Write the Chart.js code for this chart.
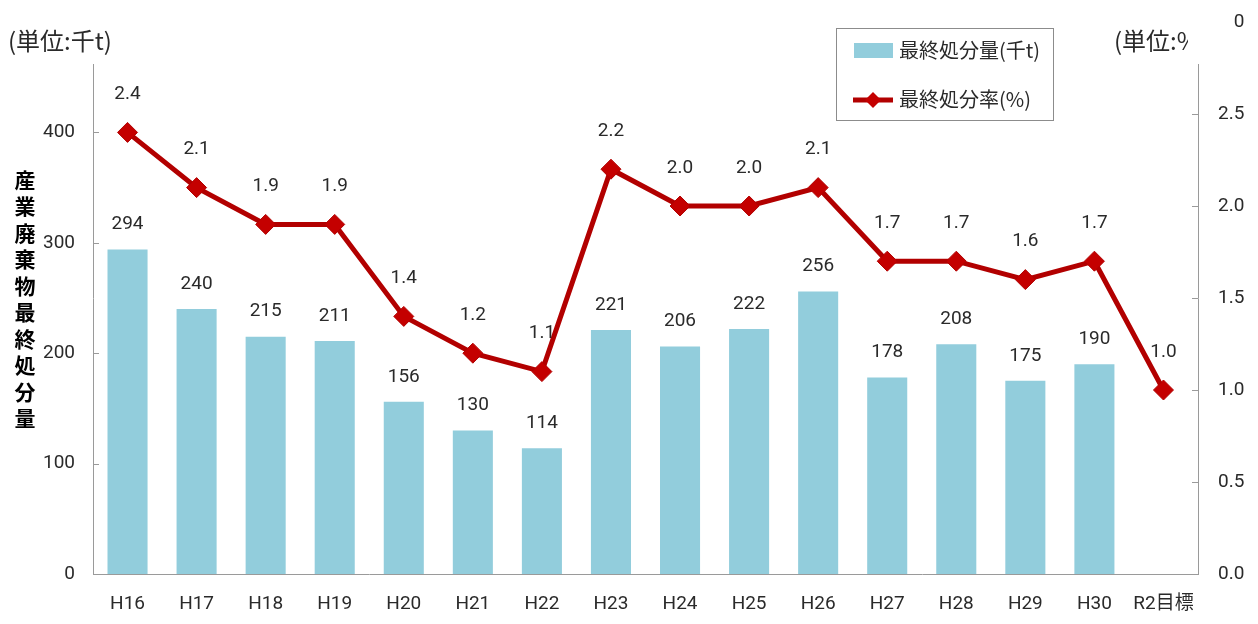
<!DOCTYPE html>
<html>
<head>
<meta charset="utf-8">
<script src="https://cdn.jsdelivr.net/npm/chart.js@4.4.1/dist/chart.umd.min.js"></script>
<style>
  html, body { margin: 0; padding: 0; background: #fff; }
  #wrap { width: 1258px; height: 624px; }
</style>
</head>
<body>
<div id="wrap"><canvas id="c" width="1258" height="624"></canvas></div>
<script>
const categories = ['H16','H17','H18','H19','H20','H21','H22','H23','H24','H25','H26','H27','H28','H29','H30','R2目標'];
const disposalAmount = [294,240,215,211,156,130,114,221,206,222,256,178,208,175,190,null];
const disposalRate = [2.4,2.1,1.9,1.9,1.4,1.2,1.1,2.2,2.0,2.0,2.1,1.7,1.7,1.6,1.7,1.0];
const leftTicks = [0,100,200,300,400,500];
const rightTicks = [0,0.5,1.0,1.5,2.0,2.5,3.0];

const FONT = "Roboto, 'Noto Sans CJK JP', sans-serif";
const JP = "'Noto Sans CJK JP', sans-serif";
const TEXT = '#2a2a2a';
const BAR = '#92CDDC';
const LINE = '#B20000';
const POINT = '#C40000';
const AXIS = '#9a9a9a';
const TICK_SIZE = 19;
const RIGHT_PAD = 20;

// keep the value range spanning the full plot height
function noLabelPadding(s) { s.paddingTop = 0; s.paddingBottom = 0; }

// Value labels, axis tick marks, unit captions, vertical title and legend box
const decor = {
  id: 'decor',
  afterDatasetsDraw(chart) {
    const ctx = chart.ctx;
    ctx.save();
    ctx.fillStyle = TEXT;
    ctx.font = '19px ' + FONT;
    ctx.textAlign = 'center';
    ctx.textBaseline = 'middle';
    chart.data.datasets.forEach((ds, di) => {
      const meta = chart.getDatasetMeta(di);
      meta.data.forEach((el, i) => {
        const v = ds.data[i];
        if (v == null) return;
        if (ds.type === 'bar') ctx.fillText(String(v), el.x, el.y - 25);
        else ctx.fillText(v.toFixed(1), el.x, el.y - 38);
      });
    });
    ctx.restore();
  },
  afterDraw(chart) {
    const ctx = chart.ctx;
    const yl = chart.scales.y, yr = chart.scales.y1;
    ctx.save();
    // inward tick marks
    ctx.strokeStyle = AXIS;
    ctx.lineWidth = 1;
    leftTicks.forEach(v => {
      const p = Math.round(yl.getPixelForValue(v)) + 0.5;
      ctx.beginPath(); ctx.moveTo(yl.right, p); ctx.lineTo(yl.right + 6, p); ctx.stroke();
    });
    rightTicks.forEach(v => {
      const p = Math.round(yr.getPixelForValue(v)) + 0.5;
      ctx.beginPath(); ctx.moveTo(yr.left, p); ctx.lineTo(yr.left - 6, p); ctx.stroke();
    });
    // unit caption boxes (white, sit over the axis tops)
    ctx.font = TICK_SIZE + 'px ' + FONT;
    const coverRight = yr.left + RIGHT_PAD + ctx.measureText('3.').width;
    ctx.fillStyle = '#fff';
    ctx.fillRect(0, 6, 114, 58);
    ctx.fillRect(1104, 6, coverRight - 1104, 58);
    ctx.fillStyle = TEXT;
    ctx.font = '24px ' + JP;
    ctx.textAlign = 'left';
    ctx.textBaseline = 'middle';
    ctx.fillText('(単位:千t)', 8, 41);
    ctx.save();
    ctx.beginPath(); ctx.rect(1104, 6, 84, 58); ctx.clip();
    ctx.fillText('(単位:%)', 1114, 41);
    ctx.restore();
    // vertical axis title
    ctx.fillStyle = '#000';
    ctx.font = 'bold 21px ' + JP;
    ctx.textAlign = 'center';
    const title = '産業廃棄物最終処分量';
    for (let i = 0; i < title.length; i++) {
      ctx.fillText(title[i], 25, 180 + i * 26.5);
    }
    // legend
    ctx.fillStyle = '#fff';
    ctx.fillRect(836, 28, 217, 92);
    ctx.strokeStyle = '#8c8c8c';
    ctx.lineWidth = 1;
    ctx.strokeRect(836.5, 28.5, 217, 92);
    ctx.fillStyle = BAR;
    ctx.fillRect(854, 43, 39, 15);
    ctx.strokeStyle = LINE;
    ctx.lineWidth = 5;
    ctx.beginPath(); ctx.moveTo(853, 100); ctx.lineTo(893, 100); ctx.stroke();
    ctx.fillStyle = POINT;
    ctx.beginPath();
    ctx.moveTo(873, 92); ctx.lineTo(881, 100); ctx.lineTo(873, 108); ctx.lineTo(865, 100);
    ctx.closePath(); ctx.fill();
    ctx.fillStyle = TEXT;
    ctx.font = '20px ' + JP;
    ctx.textAlign = 'left';
    ctx.fillText('最終処分量(千t)', 899, 50);
    ctx.fillText('最終処分率(%)', 899, 99);
    ctx.restore();
  }
};

new Chart(document.getElementById('c'), {
  data: {
    labels: categories,
    datasets: [
      {
        type: 'line',
        label: '最終処分率(%)',
        data: disposalRate,
        yAxisID: 'y1',
        borderColor: LINE,
        backgroundColor: POINT,
        borderWidth: 5,
        pointStyle: 'rectRot',
        pointRadius: 10,
        pointHoverRadius: 10,
        pointBorderWidth: 1,
        pointBackgroundColor: POINT,
        pointBorderColor: LINE,
        tension: 0,
        order: 0
      },
      {
        type: 'bar',
        label: '最終処分量(千t)',
        data: disposalAmount,
        yAxisID: 'y',
        backgroundColor: BAR,
        borderWidth: 0,
        barPercentage: 0.58,
        categoryPercentage: 1.0,
        order: 1
      }
    ]
  },
  options: {
    responsive: false,
    animation: false,
    events: [],
    layout: { padding: { top: 22, left: 0, right: 0, bottom: 0 } },
    plugins: { legend: { display: false }, tooltip: { enabled: false } },
    scales: {
      x: {
        offset: true,
        grid: { display: false, drawTicks: false },
        border: { display: true, color: AXIS, width: 1 },
        ticks: { color: TEXT, font: { size: TICK_SIZE, family: FONT }, padding: 19, maxRotation: 0, autoSkip: false },
        afterFit(s) { s.height = 50; }
      },
      y: {
        position: 'left',
        min: 0, max: 500,
        afterBuildTicks(s) { s.ticks = leftTicks.map(v => ({ value: v })); },
        grid: { display: false, drawTicks: false },
        border: { display: true, color: AXIS, width: 1 },
        ticks: { color: TEXT, font: { size: TICK_SIZE, family: FONT }, padding: 18 },
        afterFit(s) { s.width = 93; noLabelPadding(s); }
      },
      y1: {
        position: 'right',
        min: 0, max: 3,
        afterBuildTicks(s) { s.ticks = rightTicks.map(v => ({ value: v })); },
        grid: { display: false, drawTicks: false },
        border: { display: true, color: AXIS, width: 1 },
        ticks: { color: TEXT, font: { size: TICK_SIZE, family: FONT }, padding: RIGHT_PAD, callback: v => Number(v).toFixed(1) },
        afterFit(s) { s.width = 60; noLabelPadding(s); }
      }
    }
  },
  plugins: [decor]
});
</script>
</body>
</html>
